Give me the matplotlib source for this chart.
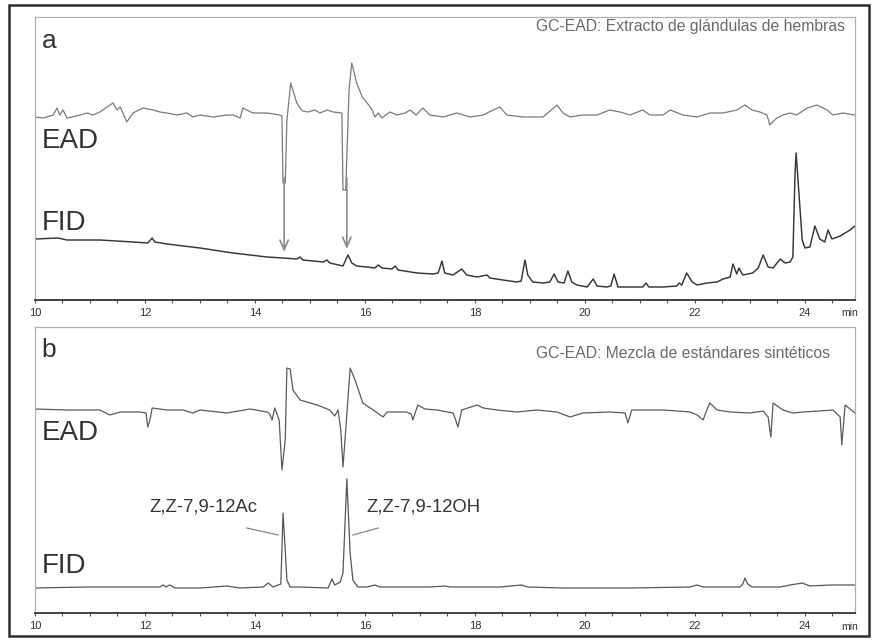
import matplotlib
matplotlib.use("Agg")
import matplotlib.pyplot as plt
from matplotlib.patches import Rectangle

plt.rcParams['font.family'] = ['Liberation Sans', 'DejaVu Sans']

# ---------------- data (time in min, signal in arbitrary units) ----------------
ead_a_t = [10.00, 10.15, 10.33, 10.40, 10.45, 10.51, 10.58, 10.67, 10.82, 10.95,
           11.05, 11.18, 11.31, 11.42, 11.49, 11.55, 11.67, 11.78, 11.96, 12.15,
           12.27, 12.40, 12.58, 12.76, 12.87, 13.00, 13.24, 13.49, 13.60, 13.73,
           13.78, 13.96, 14.22, 14.45, 14.49, 14.51, 14.55, 14.58, 14.65, 14.76,
           14.82, 14.87, 14.96, 15.09, 15.18, 15.31, 15.42, 15.58, 15.60, 15.65,
           15.71, 15.76, 15.85, 15.95, 16.04, 16.13, 16.18, 16.24, 16.31, 16.45,
           16.58, 16.73, 16.82, 16.93, 17.05, 17.18, 17.42, 17.67, 17.91, 18.15,
           18.33, 18.45, 18.58, 18.87, 19.24, 19.49, 19.60, 19.73, 19.96, 20.22,
           20.45, 20.64, 20.82, 21.05, 21.18, 21.42, 21.55, 21.78, 22.04, 22.27,
           22.51, 22.76, 22.91, 23.04, 23.18, 23.31, 23.36, 23.49, 23.60, 23.73,
           23.85, 24.04, 24.22, 24.40, 24.51, 24.69, 24.91]
ead_a_v = [183, 182, 185, 192, 185, 190, 182, 183, 185, 187,
           185, 188, 193, 197, 190, 193, 178, 187, 192, 190,
           188, 187, 185, 187, 183, 185, 183, 185, 185, 182,
           192, 187, 187, 185, 184, 117, 117, 180, 217, 197,
           192, 189, 188, 190, 187, 190, 188, 187, 110, 110,
           210, 237, 217, 203, 197, 190, 183, 187, 182, 188,
           185, 187, 190, 185, 192, 185, 183, 187, 183, 185,
           190, 193, 185, 183, 183, 195, 187, 183, 185, 185,
           190, 188, 185, 190, 185, 185, 190, 185, 183, 187,
           187, 190, 195, 190, 188, 185, 175, 182, 185, 187,
           185, 192, 195, 190, 185, 187, 185]

fid_a_t = [10.00, 10.42, 10.58, 11.18, 11.78, 12.05, 12.13, 12.18, 12.40, 13.00,
           13.60, 14.22, 14.51, 14.76, 14.82, 14.87, 15.24, 15.31, 15.36, 15.60,
           15.69, 15.76, 15.85, 16.04, 16.18, 16.24, 16.31, 16.49, 16.55, 16.60,
           16.95, 17.24, 17.33, 17.40, 17.45, 17.60, 17.76, 17.85, 18.04, 18.22,
           18.27, 18.51, 18.76, 18.84, 18.91, 18.96, 19.05, 19.24, 19.36, 19.44,
           19.51, 19.62, 19.69, 19.76, 19.85, 20.04, 20.15, 20.22, 20.40, 20.47,
           20.53, 20.60, 21.05, 21.11, 21.16, 21.42, 21.67, 21.71, 21.76, 21.85,
           21.95, 22.04, 22.22, 22.40, 22.51, 22.64, 22.69, 22.76, 22.80, 22.87,
           23.05, 23.15, 23.24, 23.33, 23.42, 23.55, 23.64, 23.73, 23.78, 23.82,
           23.84, 23.87, 23.95, 24.00, 24.09, 24.18, 24.27, 24.36, 24.42, 24.49,
           24.64, 24.82, 24.91]
fid_a_v = [61, 62, 60, 60, 58, 57, 62, 58, 56, 52,
           47, 43, 42, 41, 43, 40, 38, 40, 37, 34,
           45, 37, 34, 33, 32, 35, 32, 31, 34, 30,
           27, 26, 27, 39, 27, 25, 31, 25, 23, 25,
           22, 20, 18, 19, 40, 25, 18, 17, 18, 26,
           18, 17, 29, 18, 15, 13, 21, 14, 13, 14,
           26, 13, 13, 17, 13, 13, 14, 17, 15, 27,
           18, 15, 17, 18, 21, 23, 36, 26, 32, 25,
           27, 32, 45, 33, 32, 41, 37, 38, 43, 127,
           147, 123, 60, 52, 53, 74, 61, 58, 70, 61,
           64, 70, 74]

ead_b_t = [10.00, 10.58, 11.18, 11.36, 11.55, 11.91, 12.02, 12.05, 12.09, 12.13,
           12.40, 12.69, 12.87, 13.00, 13.49, 13.91, 14.22, 14.27, 14.31, 14.36,
           14.44, 14.49, 14.55, 14.58, 14.64, 14.69, 14.82, 15.13, 15.36, 15.45,
           15.51, 15.56, 15.60, 15.65, 15.73, 15.82, 15.96, 16.15, 16.33, 16.40,
           16.76, 16.84, 16.87, 16.96, 17.09, 17.31, 17.60, 17.65, 17.69, 17.76,
           18.04, 18.15, 18.40, 18.76, 19.13, 19.49, 19.73, 19.96, 20.45, 20.73,
           20.78, 20.85, 21.05, 21.42, 21.91, 22.04, 22.15, 22.20, 22.27, 22.40,
           22.64, 23.00, 23.24, 23.33, 23.38, 23.42, 23.60, 23.78, 23.96, 24.27,
           24.51, 24.64, 24.67, 24.73, 24.82, 24.91]
ead_b_v = [204, 203, 203, 198, 201, 201, 200, 186, 193, 205,
           203, 203, 200, 203, 200, 204, 201, 199, 193, 205,
           193, 143, 173, 245, 244, 223, 213, 208, 203, 197,
           203, 183, 146, 183, 245, 233, 210, 203, 196, 201,
           201, 199, 193, 208, 204, 203, 200, 193, 186, 203,
           208, 205, 203, 201, 203, 201, 196, 200, 201, 200,
           190, 203, 203, 203, 201, 198, 193, 201, 210, 203,
           201, 200, 202, 196, 176, 210, 203, 200, 201, 202,
           203, 196, 168, 208, 204, 200]

fid_b_t = [10.00, 10.95, 11.78, 12.27, 12.33, 12.38, 12.45, 12.55, 13.00, 13.49,
           13.73, 14.15, 14.24, 14.33, 14.42, 14.47, 14.51, 14.55, 14.58, 14.64,
           14.82, 15.33, 15.40, 15.45, 15.55, 15.60, 15.67, 15.73, 15.78, 15.87,
           16.04, 16.18, 16.27, 16.73, 17.18, 17.45, 17.55, 18.45, 18.85, 18.96,
           19.60, 20.82, 21.91, 22.04, 22.15, 22.82, 22.87, 22.91, 22.96, 23.04,
           23.55, 23.73, 23.95, 24.09, 24.45, 24.91]
fid_b_v = [25, 26, 26, 26, 28, 26, 28, 25, 25, 27,
           25, 26, 30, 26, 28, 29, 100, 63, 33, 26,
           26, 25, 34, 28, 31, 40, 134, 60, 33, 26,
           26, 28, 26, 26, 26, 27, 26, 26, 28, 26,
           25, 25, 26, 28, 26, 26, 29, 35, 29, 26,
           26, 28, 30, 27, 28, 28]

ticks_major = [10, 12, 14, 16, 18, 20, 22, 24]
titles = ["GC-EAD: Extracto de glándulas de hembras",
          "GC-EAD: Mezcla de estándares sintéticos"]
panel_letters = ["a", "b"]
compounds = ["Z,Z-7,9-12Ac", "Z,Z-7,9-12OH"]
active_times = [14.53, 15.67]

# ---------------- figure ----------------
W, H = 877, 641
fig = plt.figure(figsize=(W / 100, H / 100), dpi=100)

def px_axes(x0, y0, x1, y1):
    return fig.add_axes([x0 / W, 1 - y1 / H, (x1 - x0) / W, (y1 - y0) / H])

ax_a = px_axes(35, 17, 855, 300)
ax_b = px_axes(35, 327, 855, 613)

for ax, ymax in ((ax_a, 283), (ax_b, 286)):
    ax.set_xlim(10, 24.91)
    ax.set_ylim(0, ymax)
    ax.set_yticks([])
    for s in ('left', 'top', 'right'):
        ax.spines[s].set_color('#b0b0b0')
        ax.spines[s].set_linewidth(0.9)
    ax.spines['bottom'].set_color('#333333')
    ax.spines['bottom'].set_linewidth(1.3)
    ax.set_xticks(ticks_major)
    ax.set_xticklabels([str(t) for t in ticks_major])
    ax.set_xticks([t / 2 for t in range(20, 50)], minor=True)
    ax.tick_params(axis='x', which='both', direction='out', length=2.5,
                   width=0.8, color='#555555', pad=3.2, labelsize=8,
                   labelcolor='#333333')

# panel a traces
ax_a.plot(ead_a_t, ead_a_v, color='#7a7a7a', lw=0.9)
ax_a.plot(fid_a_t, fid_a_v, color='#353535', lw=1.05)
for t, tip in zip(active_times, (48, 51)):
    ax_a.annotate('', xy=(t, tip), xytext=(t, 122),
                  arrowprops=dict(arrowstyle='->,head_length=0.7,head_width=0.3',
                                  color='#8a8a8a', lw=1.2, shrinkA=0, shrinkB=0))

# panel b traces
ax_b.plot(ead_b_t, ead_b_v, color='#5a5a5a', lw=0.9)
ax_b.plot(fid_b_t, fid_b_v, color='#555555', lw=0.9)

# compound labels with leader lines
ax_b.plot([13.85, 14.42], [85, 78], color='#8a8a8a', lw=0.9)
ax_b.plot([15.78, 16.24], [78, 85], color='#8a8a8a', lw=0.9)
ax_b.text(13.07, 101, compounds[0], ha='center', va='baseline',
          fontsize=13.3, color='#333333')
ax_b.text(16.03, 101, compounds[1], ha='left', va='baseline',
          fontsize=13.3, color='#333333')

# panel texts
for ax, letter, title, ly, ty, ey, fy in (
        (ax_a, panel_letters[0], titles[0], 0.890, 0.9505, 0.537, 0.247),
        (ax_b, panel_letters[1], titles[1], 0.895, 0.892, 0.605, 0.140)):
    ax.text(0.008, ly, letter, transform=ax.transAxes, fontsize=19,
            color='#333333', va='baseline', ha='left')
    ax.text(0.6115, ty, title, transform=ax.transAxes, fontsize=11.3,
            color='#6a6a6a', va='baseline', ha='left')
    ax.text(0.008, ey, "EAD", transform=ax.transAxes, fontsize=20,
            color='#333333', va='baseline', ha='left')
    ax.text(0.008, fy, "FID", transform=ax.transAxes, fontsize=20,
            color='#333333', va='baseline', ha='left')

fig.text(850 / W, 1 - 313 / H, "min", fontsize=7.5, color='#333333',
         ha='center', va='center')
fig.text(850 / W, 1 - 627 / H, "min", fontsize=7.5, color='#333333',
         ha='center', va='center')

# outer frame
fig.patches.append(Rectangle((9 / W, 1 - 636 / H), 860 / W, 631 / H,
                             transform=fig.transFigure, fill=False,
                             edgecolor='#2e2e2e', lw=1.8))

fig.savefig("out.png", dpi=100)
